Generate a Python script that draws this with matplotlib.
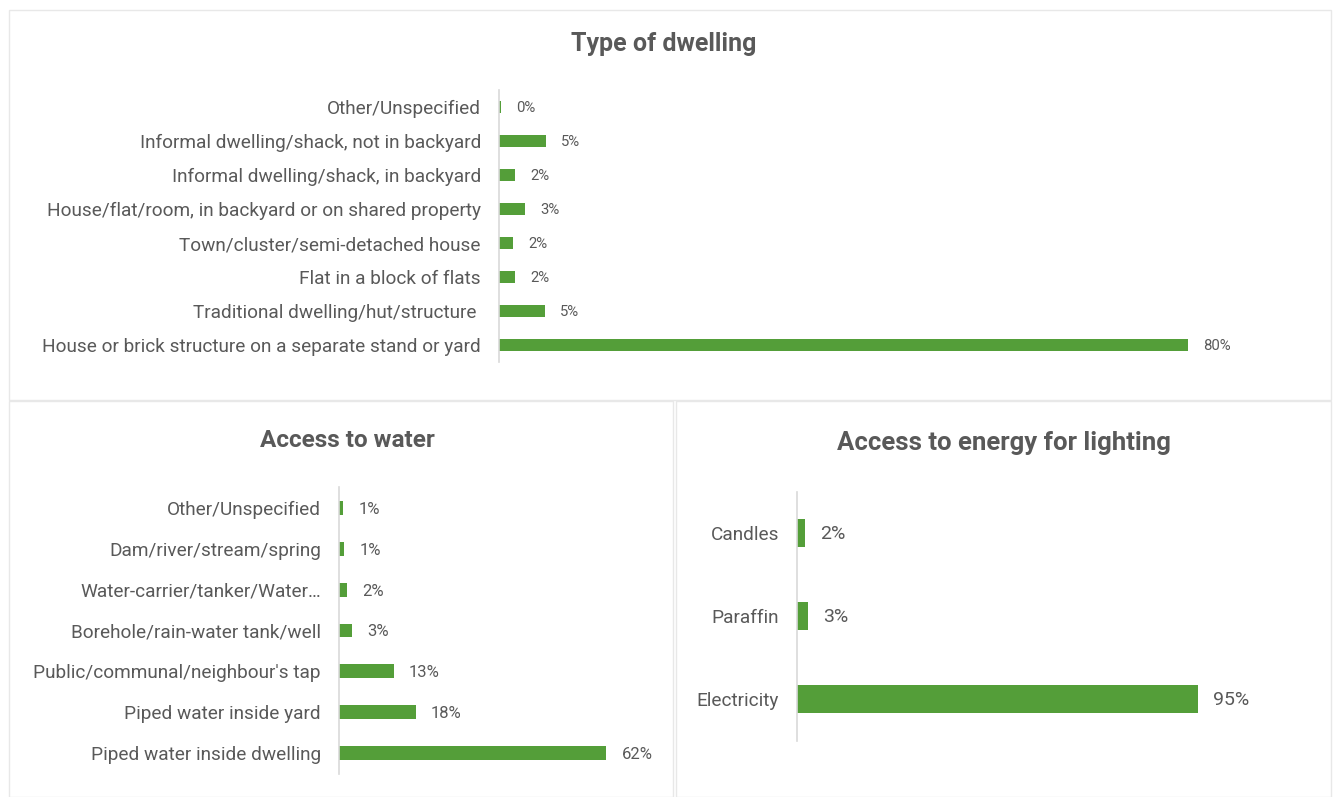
import matplotlib
matplotlib.use('Agg')
import matplotlib.pyplot as plt
from matplotlib.patches import Rectangle

plt.rcParams['font.family'] = ['Roboto', 'DejaVu Sans']

# data, listed top to bottom as drawn
dwelling_labels = ["Other/Unspecified",
                   "Informal dwelling/shack, not in backyard",
                   "Informal dwelling/shack, in backyard",
                   "House/flat/room, in backyard or on shared property",
                   "Town/cluster/semi-detached house",
                   "Flat in a block of flats",
                   "Traditional dwelling/hut/structure ",
                   "House or brick structure on a separate stand or yard"]
dwelling_pct = [0.2, 5.4, 1.9, 3.0, 1.6, 1.9, 5.3, 80.0]

water_labels = ["Other/Unspecified",
                "Dam/river/stream/spring",
                "Water-carrier/tanker/Water\u2026",
                "Borehole/rain-water tank/well",
                "Public/communal/neighbour's tap",
                "Piped water inside yard",
                "Piped water inside dwelling"]
water_pct = [0.9, 1.2, 1.9, 3.0, 12.7, 17.8, 62.0]

light_labels = ["Candles", "Paraffin", "Electricity"]
light_pct = [1.9, 2.6, 95.0]

GREEN = '#549E39'
TEXT = '#595959'
W, H = 1338, 797

fig = plt.figure(figsize=(W / 100, H / 100), dpi=100)
fig.patch.set_facecolor('white')


def px_axes(left, top, right, bottom):
    return fig.add_axes([left / W, 1 - bottom / H, (right - left) / W, (bottom - top) / H])


def panel(left, top, right, bottom):
    fig.patches.append(Rectangle((left / W, 1 - bottom / H), (right - left) / W, (bottom - top) / H,
                                 transform=fig.transFigure, fill=False, edgecolor='#E8E8E8',
                                 linewidth=1.0, zorder=0))


def bar_panel(ax, labels, values, xmax, lab_size):
    n = len(labels)
    ax.barh(range(n), values, height=0.34, color=GREEN)
    for i, v in enumerate(values):
        ax.annotate(f'{v:.0f}%', (v, i), xytext=(11, -1), textcoords='offset points',
                    ha='left', va='center', fontsize=lab_size, color=TEXT)
    ax.set_xlim(0, xmax)
    ax.set_ylim(n - 0.5, -0.5)
    ax.set_yticks(range(n))
    ax.set_yticklabels(labels, fontsize=13.7, color=TEXT)
    ax.set_xticks([])
    ax.tick_params(axis='y', length=0, pad=13)
    for s in ['top', 'right', 'bottom']:
        ax.spines[s].set_visible(False)
    ax.spines['left'].set_color('#D9D9D9')
    ax.spines['left'].set_linewidth(1.2)
    ax.patch.set_alpha(0)


panel(9, 10, 1331, 400)
panel(9, 401, 673, 797)
panel(676, 401, 1331, 797)

ax1 = px_axes(499, 90, 1274, 362)
bar_panel(ax1, dwelling_labels, dwelling_pct, 90, 10.7)
ax2 = px_axes(339, 487.5, 641, 773.5)
bar_panel(ax2, water_labels, water_pct, 70, 12)
ax3 = px_axes(797, 491.5, 1219, 740.5)
bar_panel(ax3, light_labels, light_pct, 100, 14)

fig.text(664 / W, 1 - 44 / H, 'Type of dwelling', ha='center', va='center',
         fontsize=18, fontweight='bold', color=TEXT)
fig.text(347 / W, 1 - 441 / H, 'Access to water', ha='center', va='center',
         fontsize=17.5, fontweight='bold', color=TEXT)
fig.text(1004 / W, 1 - 443 / H, 'Access to energy for lighting', ha='center', va='center',
         fontsize=18.5, fontweight='bold', color=TEXT)

fig.savefig('out.png', dpi=100)
